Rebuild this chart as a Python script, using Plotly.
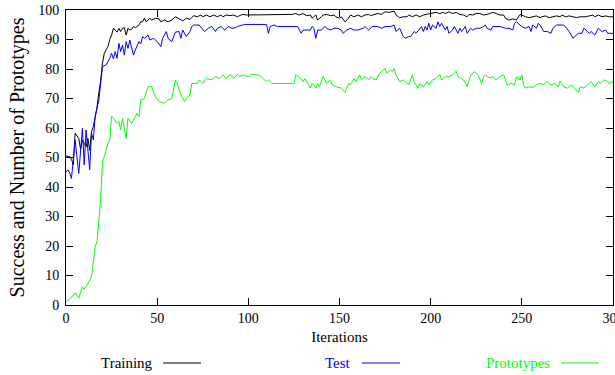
import plotly.graph_objects as go

# ---- data ----
train_it = [0,2,3,4,5,7,8,9,11,12,13,14,15,16,17,18,19,20,21,22,23,24,25,26,27,28,29,30,31,32,33,34,35,36,37,38,40,41,42,43,44,46,47,49,51,52,54,56,58,60,61,63,64,66,68,70,72,74,75,77,79,81,83,85,86,88,90,92,94,96,97,99,101,103,105,107,108,110,112,114,124,126,128,130,132,134,135,137,138,140,141,143,145,147,148,150,151,153,155,156,158,160,162,164,166,167,169,171,173,175,177,178,180,181,183,185,187,188,190,192,194,196,198,199,201,203,205,207,208,210,212,214,216,218,220,221,223,225,227,229,231,234,236,238,240,241,243,245,247,248,249,251,252,254,256,258,260,261,263,265,267,269,271,272,274,276,278,280,282,285,287,289,290,292,294,296,298,300]
train_val = [50.5,50.3,49.4,47.5,58.2,56.5,52.8,55.9,53.6,56.5,52.4,58.8,60.5,63.8,67,72,76,82,85.3,86.5,87.6,90,91.5,93.8,93.2,92.5,93.8,92.7,93.8,94,91.5,93.8,93.2,93.5,94.4,94,94.9,96,96,97.2,96,97.2,96.6,97.2,97,96,96.6,96,96.6,97.7,97.4,96.6,96.3,97.2,96.8,98.1,97.7,98.3,97.7,98.3,97.7,98.3,97.7,98.3,97.7,98.3,98.1,98.3,97.7,98.3,98.5,98.3,98.3,98.5,98.3,98.5,98.3,98.5,98.3,98.5,98.5,98.8,98.3,98.8,98.1,98.3,97.2,98.3,96.6,97.7,98.3,98.5,98.1,98.3,97.7,97.2,97.7,96,97.2,98.3,97.7,98.3,97.7,98.3,98.5,98.1,98.5,98.8,98.5,99.4,99.2,99.4,99.6,98.3,97.4,97.7,97.7,98.3,97.7,98.3,97.7,98.3,98.5,98.8,98.8,99.2,98.8,99.2,98.8,99.4,98.8,99.2,98.5,98.3,97.7,98.5,98.3,98.8,98.8,98.3,98.5,99.2,98.8,98.3,98.3,97.2,96.6,97,96.6,97.7,98.5,98,97.7,97.4,97.7,98,97.4,97.7,98,97.4,97.7,98,97.7,98.3,97.7,98,97.7,97.4,97.7,97.7,98,98.3,97.7,98.3,97.7,98,97.7,97.7]

test_it = [0,1,2,3,5,7,9,10,11,13,14,15,16,18,19,20,22,24,25,26,27,28,29,30,31,32,33,34,35,37,38,40,41,42,43,45,46,48,50,52,53,55,56,58,60,62,63,64,66,68,69,70,73,75,76,78,80,82,83,85,87,89,91,93,94,98,110,111,112,114,116,127,129,130,134,135,136,137,138,140,142,143,145,147,149,151,152,154,156,158,160,163,164,166,168,171,173,175,178,180,181,183,185,186,188,189,191,192,194,195,196,197,198,199,200,201,203,204,205,206,208,209,210,212,213,215,216,217,219,220,222,223,225,227,229,230,231,233,234,236,238,241,243,245,246,247,249,250,252,254,255,256,258,259,260,262,264,266,267,269,273,275,276,278,279,281,283,284,286,287,288,290,292,293,294,296,297,300]
test_val = [45,45.8,44.9,42.9,55.9,44.6,59.9,47.5,59.3,45.8,58.2,56,63.8,69.5,75,80.8,81.4,83.6,85.3,83.5,85.9,83.6,88.7,85.9,88.1,84.7,89.3,87,89.8,84.7,86.4,89.3,88.5,91,90.4,91.5,89.8,90.4,89.3,87.6,90.4,92.7,90.4,89.3,92.5,92.7,90.4,93.2,91,92.7,94.4,94.9,94.9,93.2,92.7,93.8,94.4,92.7,93.8,94.4,93.2,94.4,93.8,94,94.4,95.1,95.1,92.1,94.4,94.9,94.4,94.4,92.1,93.2,93.2,94.4,93.8,90.4,93.2,93.2,94.4,93.8,93.2,93.8,93.8,93.2,92.1,93.2,93.8,93.2,93.2,93.8,94.4,93.2,94.4,94.4,93.8,94.4,94.4,94.9,92.7,93.8,91,90.4,91,91,92.7,92.1,93.8,94.4,92.7,94.4,93.2,95.5,93.2,94.9,93.8,96,94.4,95.5,93.2,94.4,92.1,93.2,94.4,92.1,93.8,92.7,94.4,92.1,93.8,93.2,93.8,93.8,94.4,94.9,93.8,93.2,94.4,94.4,94.4,93.8,93.8,93.2,95.5,96,94.9,94.4,93.8,94.4,92.7,94.9,93.8,95.5,94.9,92.7,92.7,92.1,93.8,94.9,94.9,93.2,92.7,90.4,91,92.1,92.1,93.8,92.7,92.1,92.7,91.5,93.8,93.2,92.7,93.2,92.1,92.1]

proto_it = [0,1,3,5,7,9,10,12,14,16,17,19,20,21,23,24,25,26,28,29,30,31,33,34,36,39,40,41,43,45,47,49,51,54,56,58,60,61,62,63,65,66,68,69,72,73,75,77,80,82,84,86,88,90,92,94,95,97,100,102,104,106,108,110,111,113,125,126,128,130,131,133,134,135,137,138,139,141,143,145,146,148,151,153,155,156,158,159,161,162,164,166,167,168,170,172,174,175,176,178,179,180,181,183,185,187,188,190,191,193,194,196,198,199,201,203,205,206,208,210,212,214,215,218,220,222,224,226,228,229,230,232,234,236,238,240,241,242,244,246,247,249,250,251,252,254,256,258,260,262,264,266,268,270,271,273,275,277,279,281,282,284,286,288,290,292,293,295,297,298,300]
proto_val = [1,1.5,2.6,4.2,2.3,6.2,5.3,7.3,9.6,19.8,21.5,35.6,49,50.3,54.8,55.9,64,63.3,61.6,62.2,59.3,63.3,56.5,63.3,61.6,65,63.8,69.5,70,74,74,70.6,68.9,68.4,69.5,70,76.3,75,72.9,71.2,69,70,71.2,75.1,75.1,76.3,75.1,76.8,76.3,77.4,76.8,78,76.8,78.2,76.8,78.2,77.4,78,77.4,78.2,78,78,76.8,75.7,76.3,75.1,75.1,78,77.4,75.7,76.8,74.6,73.5,75.1,73.5,75.1,74,77.4,75.1,76.3,74.6,74,73.5,72.1,75.1,74.6,76.8,75.7,78,76.3,77.4,76.3,77.4,76.8,76.3,78.5,79.7,80.2,78.5,79.7,79.1,80.2,78,75.7,76.3,75.1,74.6,78,75.7,73.5,75.1,74,75.7,74.6,76.3,76.8,78.2,76.3,77.4,77.4,78,79.3,77.4,76.3,74,78,79.1,78,75.1,77.4,78,77,77.4,76.3,77.4,78,76.3,74.6,75.1,74.6,77.4,76.3,78,74.6,73.5,74,73.7,74.6,75.1,74.6,75.9,74.6,75.1,74,75.9,74,73.5,74.6,73.5,72.1,74,73.5,74.6,75.7,74,75.7,75.1,76.3,75.7,75.1,75.7]

series_names = ["Training", "Test", "Prototypes"]
series_colors = ["#000000", "#0000ff", "#00ff00"]
x_ticks = [0, 50, 100, 150, 200, 250, 300]
y_ticks = [0, 10, 20, 30, 40, 50, 60, 70, 80, 90, 100]

FONT = "Liberation Serif"

fig = go.Figure()
for name, xs, ys, col in zip(series_names,
                             [train_it, test_it, proto_it],
                             [train_val, test_val, proto_val],
                             series_colors):
    fig.add_trace(go.Scatter(x=xs, y=ys, mode="lines", name=name,
                             line=dict(color=col, width=1), showlegend=False,
                             hoverinfo="skip"))

axis_common = dict(showline=True, linecolor="black", linewidth=1, mirror="ticks",
                   ticks="inside", ticklen=7, tickcolor="black", tickwidth=1,
                   showgrid=False, zeroline=False, automargin=False,
                   ticklabeloverflow="allow",
                   tickfont=dict(family=FONT, size=14, color="black"))

fig.update_layout(
    width=615, height=375,
    margin=dict(l=66, r=2, t=10, b=70),
    paper_bgcolor="white", plot_bgcolor="white",
    template="none",
    xaxis=dict(range=[0, 300], tickvals=x_ticks,
               title=dict(text="Iterations", font=dict(family=FONT, size=15, color="black"), standoff=6),
               **axis_common),
    yaxis=dict(range=[0, 100], tickvals=y_ticks, ticklabelstandoff=3,
               title=dict(text="Success and Number of Prototypes", font=dict(family=FONT, size=20, color="black"), standoff=8),
               **axis_common),
)

# manual gnuplot-style legend: label then line sample (positions in pixels)
plot_w = 613 - 66
plot_h = 305 - 10
def px_x(p):
    return (p - 66) / plot_w
def px_y(p):
    return (305 - p) / plot_h

legend_text_right = [155, 353, 552]
legend_line = [(163, 201), (362, 400), (561, 599)]
ly = px_y(363)
for name, col, tr, (l0, l1) in zip(series_names, series_colors, legend_text_right, legend_line):
    fig.add_annotation(xref="paper", yref="paper", x=px_x(tr), y=ly, text=name,
                       showarrow=False, xanchor="right", yanchor="middle",
                       font=dict(family=FONT, size=15, color=col))
    fig.add_shape(type="line", xref="paper", yref="paper", x0=px_x(l0), x1=px_x(l1),
                  y0=ly, y1=ly, line=dict(color=col, width=1))

fig.write_html("out.html",
               config={"displayModeBar": False},
               post_script="document.body.style.margin='0';document.body.style.overflow='hidden';")
